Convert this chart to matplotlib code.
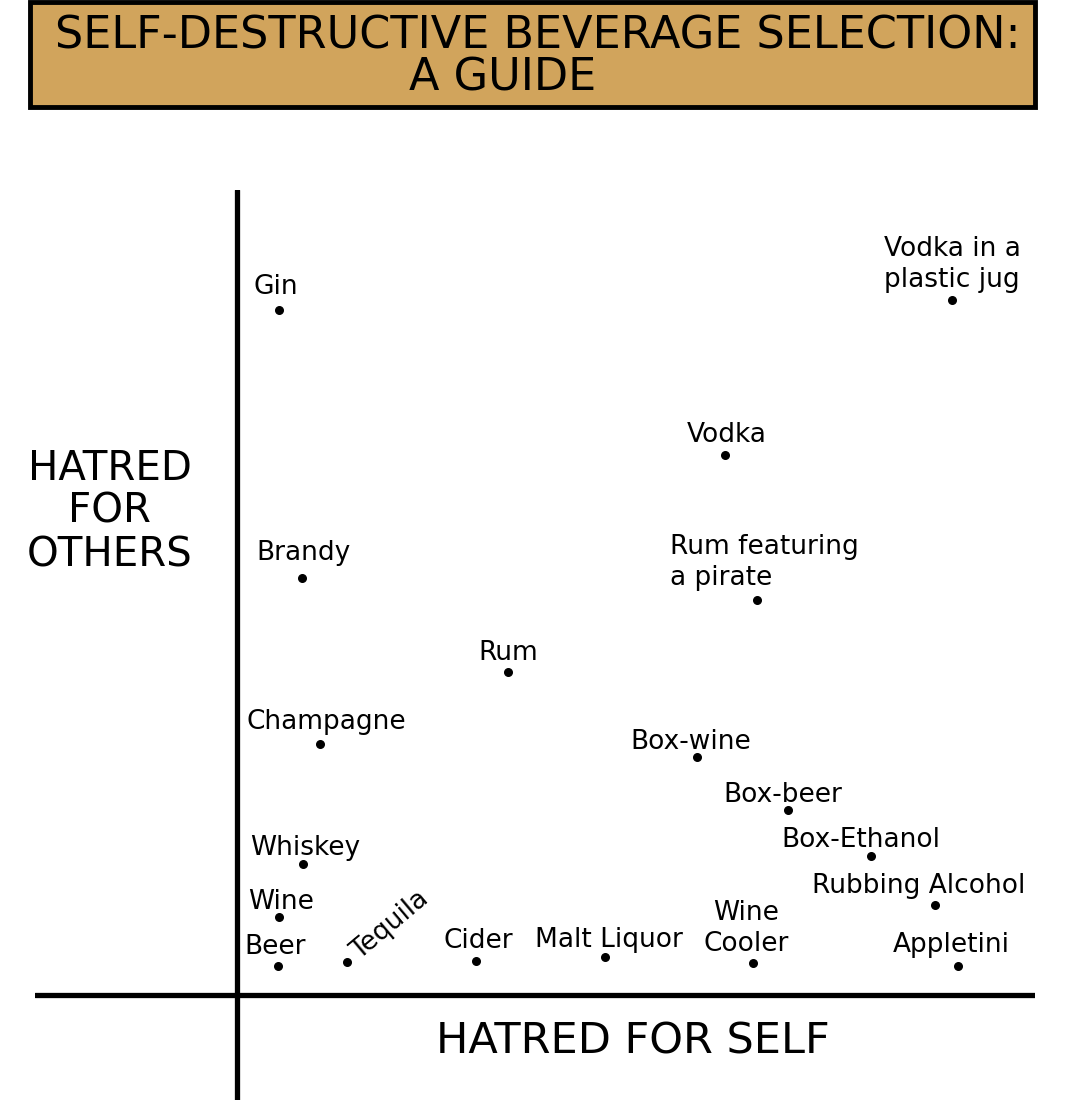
import matplotlib
matplotlib.use("Agg")
import matplotlib.pyplot as plt
from matplotlib.patches import Rectangle

# drinks: (hatred for self, hatred for others)
drinks = ["Gin", "Vodka in a\nplastic jug", "Vodka", "Brandy", "Rum featuring\na pirate",
          "Rum", "Champagne", "Box-wine", "Box-beer", "Whiskey", "Box-Ethanol",
          "Rubbing Alcohol", "Wine", "Beer", "Tequila", "Cider", "Malt Liquor",
          "Wine\nCooler", "Appletini"]
self_hate = [0.53, 8.96, 6.12, 0.81, 6.52, 3.40, 1.04, 5.76, 6.90, 0.83, 7.94,
             8.75, 0.53, 0.51, 1.38, 3.00, 4.61, 6.47, 9.04]
others_hate = [8.51, 8.63, 6.71, 5.18, 4.91, 4.02, 3.12, 2.96, 2.30, 1.63, 1.73,
               1.12, 0.97, 0.36, 0.41, 0.43, 0.47, 0.40, 0.36]

# label placement relative to the dot (pixels, y up), alignment, rotation
offsets = [(-3, 23), (0, 36), (1, 20), (2, 25), (-87, 37), (0, 19), (6, 22), (-6, 15),
           (-5, 15), (2, 16), (-10, 16), (-17, 19), (2, 15), (-2, 19), (43, 37), (2, 20),
           (4, 17), (-7, 35), (-7, 21)]
aligns = ["center"] * len(drinks)
aligns[4] = "left"
rotations = [0] * len(drinks)
rotations[14] = 40

plt.rcParams['font.family'] = ['DejaVu Sans']

fig = plt.figure(figsize=(10.8, 11.19), dpi=100)

# title box
fig.patches.append(Rectangle((30 / 1080, 1 - 107 / 1119), 1005 / 1080, 105 / 1119,
                             transform=fig.transFigure, facecolor="#D1A45C",
                             edgecolor="black", linewidth=3.5, zorder=0))
fig.text(538 / 1080, 1 - 36 / 1119, "SELF-DESTRUCTIVE BEVERAGE SELECTION:",
         ha="center", va="center", fontsize=32)
fig.text(503 / 1080, 1 - 78 / 1119, "A GUIDE", ha="center", va="center", fontsize=32)

ax = fig.add_axes([35 / 1080, 19 / 1119, 1000 / 1080, 910 / 1119])
ax.set_xlim(-2.53, 10)
ax.set_ylim(-1.30, 10)
ax.axis("off")

ax.axhline(0, color="black", linewidth=3.8, solid_capstyle="round")
ax.axvline(0, color="black", linewidth=3.8, solid_capstyle="round")

ax.scatter(self_hate, others_hate, s=30, color="black", zorder=3)

for name, x, y, (dx, dy), ha, rot in zip(drinks, self_hate, others_hate, offsets, aligns, rotations):
    ax.annotate(name, (x, y), xytext=(dx * 0.72, dy * 0.72), textcoords="offset points",
                ha=ha, va="center", fontsize=19, rotation=rot, linespacing=1.25)

fig.text(110 / 1080, 1 - 512 / 1119, "HATRED\nFOR\nOTHERS", ha="center", va="center",
         fontsize=29, linespacing=1.1)
fig.text(633 / 1080, 1 - 1042 / 1119, "HATRED FOR SELF", ha="center", va="center",
         fontsize=31)

plt.savefig("out.png", dpi=100)
